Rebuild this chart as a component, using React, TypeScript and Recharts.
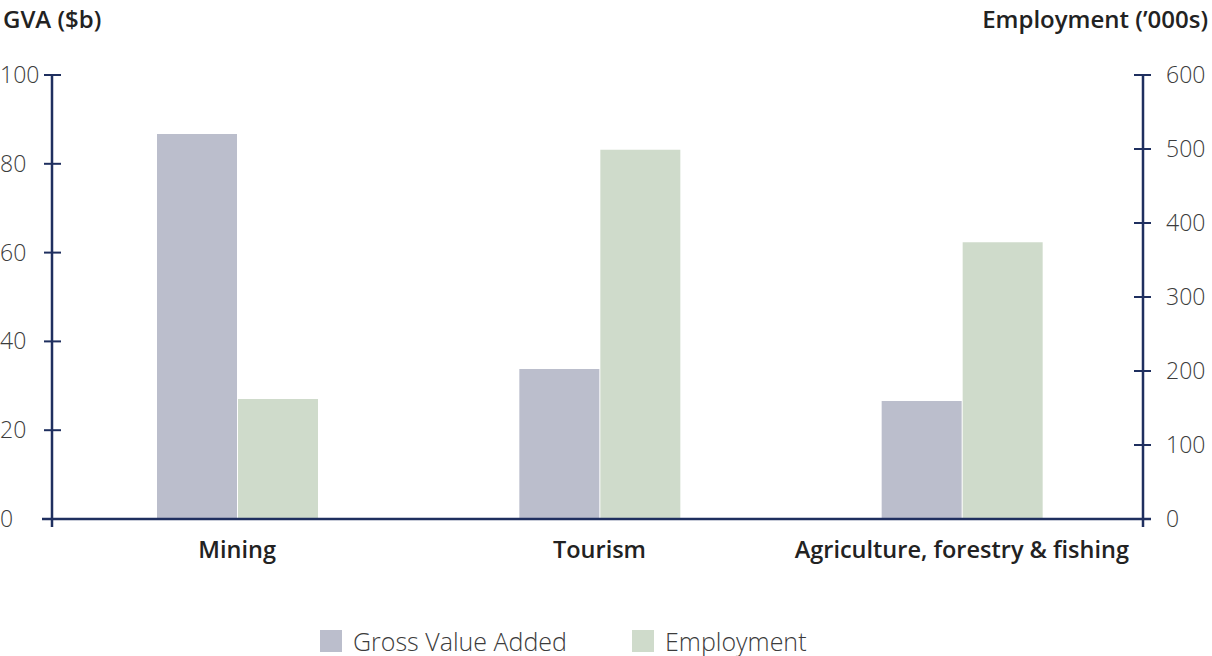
import React from "react";
import { BarChart, Bar, XAxis, YAxis, Legend } from "recharts";

const categories = ["Mining", "Tourism", "Agriculture, forestry & fishing"];
const gvaValues = [86.7, 33.8, 26.6];
const employmentValues = [162, 499, 374];
const gvaTicks = [0, 20, 40, 60, 80, 100];
const employmentTicks = [0, 100, 200, 300, 400, 500, 600];

const data = categories.map((name, i) => ({
  name,
  gva: gvaValues[i],
  employment: employmentValues[i],
}));

const AXIS = "#1f2f5f";
const GVA_COLOR = "#bbbecc";
const EMP_COLOR = "#cfdbcb";
const FONT = "'Open Sans', 'Noto Sans', sans-serif";

const LeftTick = (props: any) => {
  const { x, y, payload } = props;
  return (
    <g>
      <line x1={x - 8} x2={x + 9} y1={y} y2={y} stroke={AXIS} strokeWidth={2} />
      {payload.value === 0 && (
        <>
          <line x1={x - 10} x2={x} y1={y} y2={y} stroke={AXIS} strokeWidth={2.5} />
          <line x1={x} x2={x} y1={y} y2={y + 8} stroke={AXIS} strokeWidth={2.5} />
        </>
      )}
      <text
        x={x - 52}
        y={y}
        dy="0.35em"
        textAnchor="start"
        fontFamily={FONT}
        fontWeight={300}
        fontSize={23}
        fill="#3c3c3c"
      >
        {payload.value}
      </text>
    </g>
  );
};

const RightTick = (props: any) => {
  const { x, y, payload } = props;
  return (
    <g>
      <line x1={x - 9} x2={x + 8} y1={y} y2={y} stroke={AXIS} strokeWidth={2} />
      {payload.value === 0 && (
        <>
          <line x1={x} x2={x + 8} y1={y} y2={y} stroke={AXIS} strokeWidth={2.5} />
          <line x1={x} x2={x} y1={y} y2={y + 8} stroke={AXIS} strokeWidth={2.5} />
        </>
      )}
      <text
        x={x + 23}
        y={y}
        dy="0.35em"
        textAnchor="start"
        fontFamily={FONT}
        fontWeight={300}
        fontSize={23}
        fill="#3c3c3c"
      >
        {payload.value}
      </text>
    </g>
  );
};

const CategoryTick = (props: any) => {
  const { x, y, payload } = props;
  return (
    <text
      x={x}
      y={y + 39}
      textAnchor="middle"
      fontFamily={FONT}
      fontWeight={600}
      fontSize={23.5}
      fill="#222"
    >
      {payload.value}
    </text>
  );
};

const LegendContent = () => {
  const items = [
    { label: "Gross Value Added", color: GVA_COLOR, left: 320 },
    { label: "Employment", color: EMP_COLOR, left: 632 },
  ];
  return (
    <div style={{ position: "relative", height: 36, width: 1212 }}>
      {items.map((it) => (
        <div
          key={it.label}
          style={{
            position: "absolute",
            left: it.left,
            top: 0,
            display: "flex",
            alignItems: "center",
            height: 36,
          }}
        >
          <span
            style={{
              width: 22,
              height: 22,
              background: it.color,
              display: "inline-block",
              marginRight: 11,
            }}
          />
          <span
            style={{
              fontFamily: FONT,
              fontWeight: 300,
              fontSize: 25,
              color: "#3c3c3c",
            }}
          >
            {it.label}
          </span>
        </div>
      ))}
    </div>
  );
};

export default function App() {
  return (
    <div style={{ position: "absolute", left: 0, top: 0, width: 1212, height: 656, background: "#fff" }}>
      <BarChart
        width={1212}
        height={656}
        data={data}
        margin={{ top: 75, right: 0, bottom: 0, left: 0 }}
        barGap={1}
        barSize={80}
      >
        <XAxis
          dataKey="name"
          height={137}
          padding={{ left: 4, right: 0 }}
          axisLine={{ stroke: AXIS, strokeWidth: 2.5 }}
          tickLine={false}
          tickSize={0}
          tickMargin={0}
          tick={<CategoryTick />}
          interval={0}
        />
        <YAxis
          yAxisId="left"
          orientation="left"
          width={52}
          domain={[0, 100]}
          ticks={gvaTicks}
          axisLine={{ stroke: AXIS, strokeWidth: 2.5 }}
          tickLine={false}
          tickSize={0}
          tickMargin={0}
          tick={<LeftTick />}
          label={() => (
            <text x={3} y={28} fontFamily={FONT} fontWeight={600} fontSize={24} fill="#222">
              GVA ($b)
            </text>
          )}
        />
        <YAxis
          yAxisId="right"
          orientation="right"
          width={69}
          domain={[0, 600]}
          ticks={employmentTicks}
          axisLine={{ stroke: AXIS, strokeWidth: 2.5 }}
          tickLine={false}
          tickSize={0}
          tickMargin={0}
          tick={<RightTick />}
          label={() => (
            <text
              x={1208}
              y={28}
              textAnchor="end"
              fontFamily={FONT}
              fontWeight={600}
              fontSize={24}
              fill="#222"
            >
              Employment (’000s)
            </text>
          )}
        />
        <Legend
          verticalAlign="middle"
          layout="horizontal"
          content={<LegendContent />}
          wrapperStyle={{ top: 623, left: 0, width: 1212 }}
        />
        <Bar yAxisId="left" dataKey="gva" name="Gross Value Added" fill={GVA_COLOR} isAnimationActive={false} />
        <Bar yAxisId="right" dataKey="employment" name="Employment" fill={EMP_COLOR} isAnimationActive={false} />
      </BarChart>
    </div>
  );
}
